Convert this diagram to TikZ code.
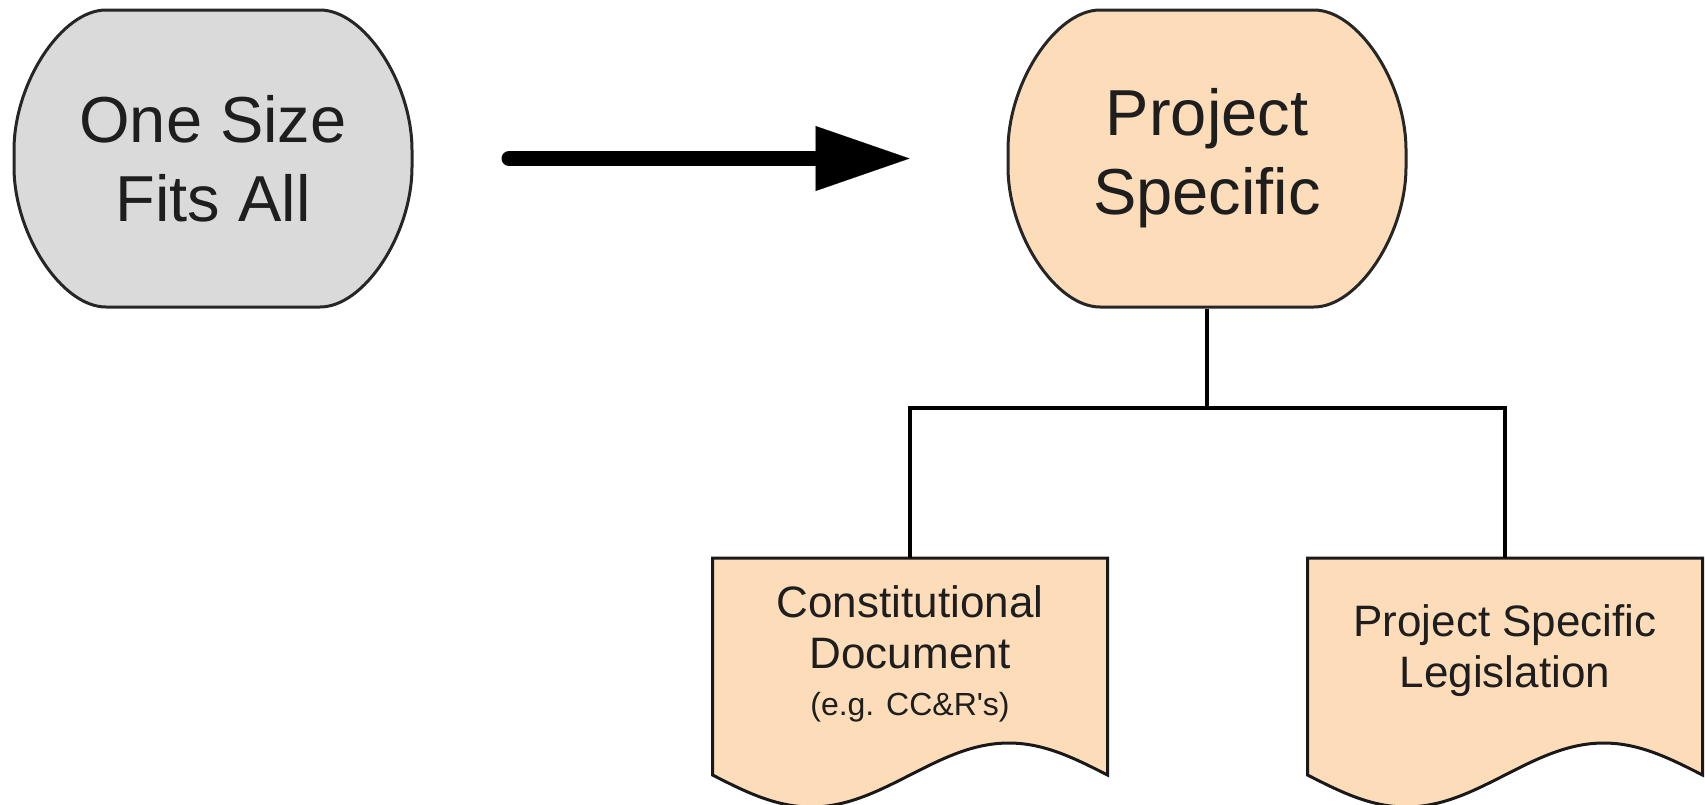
\documentclass[tikz,border=0pt]{standalone}
\usepackage{fontspec}
\setmainfont{Liberation Sans}
\usetikzlibrary{arrows.meta}
\definecolor{boxgray}{RGB}{218,218,218}
\definecolor{peach}{RGB}{253,220,185}
\definecolor{txtcol}{RGB}{30,30,30}
% outline of a terminal box, relative to its centre (pixels, y downwards)
\newcommand\TermOutline{(-107,-148.5) -- (107,-148.5)
  .. controls (151.2,-148.5) and (199,-75.7) .. (199,-8.5) -- (199,8.5)
  .. controls (199,75.7) and (151.2,148.5) .. (107,148.5) -- (-107,148.5)
  .. controls (-151.2,148.5) and (-199,75.7) .. (-199,8.5) -- (-199,-8.5)
  .. controls (-199,-75.7) and (-151.2,-148.5) .. (-107,-148.5) -- cycle}
% wavy bottom of a document box, from the right end to the left end
\newcommand\DocWave{(1107.5,775)
  .. controls (1075.3,758.6) and (1044.5,743) .. (1008.75,743)
  .. controls (973,743) and (942.2,758.6) .. (910,775)
  .. controls (877.8,791.4) and (847,807) .. (811.25,807)
  .. controls (775.5,807) and (744.7,791.4) .. (712.5,775)}
\begin{document}
\begin{tikzpicture}[x=1pt,y=-1pt,
  termshape/.style={draw=black!85, line width=3pt},
  term/.style={minimum width=398pt, minimum height=297pt, inner sep=0pt, outer sep=1.5pt,
    align=center, text=txtcol, font=\fontsize{65}{79}\selectfont},
  docframe/.style={minimum width=395pt, minimum height=220pt, inner sep=0pt, outer sep=0pt},
  docshape/.style={draw=black!90, line width=3pt, fill=peach, line join=miter},
  doctext/.style={align=center, text=txtcol, inner sep=0pt, font=\fontsize{44}{51}\selectfont},
  bigarrow/.style={line width=15pt, line cap=round, draw=black,
    -{Triangle[length=94pt, width=65pt, line width=0.1pt]}},
  conn/.style={draw=black, line width=3.5pt, line join=miter}
]
\useasboundingbox (0,0) rectangle (1705,804);

% terminal boxes
\begin{scope}[shift={(213,158.5)}]
  \path[termshape, fill=boxgray] \TermOutline;
\end{scope}
\begin{scope}[shift={(1207,158.5)}]
  \path[termshape, fill=peach] \TermOutline;
\end{scope}
\node[term] (fits) at (213,158.5) {One Size\\Fits All};
\node[term] (proj) at (1207,158.5) {Project\\Specific};

\draw[bigarrow, shorten <=95.5pt, shorten >=97pt] (fits.east) -- (proj.west);

% document 1
\node[docframe] (doc1) at (910,668) {};
\path[docshape] (doc1.north west) -- (doc1.north east) -- \DocWave -- cycle;
\node[doctext] (t1) at (910,653.5) {Constitutional\\Document\\[-4pt]{\fontsize{32}{38}\selectfont (e.g. CC\&R\textquotesingle s)}};

% document 2
\begin{scope}[shift={(595,0)}]
\node[docframe] (doc2) at (910,668) {};
\path[docshape] (doc2.north west) -- (doc2.north east) -- \DocWave -- cycle;
\node[doctext] (t2) at (910,651) {Project Specific\\Legislation};
\end{scope}

% tree connectors
\coordinate (bus) at (1207,408);
\draw[conn] (proj.south) -- (bus);
\draw[conn] (doc1.north) |- (bus) -| (doc2.north);
\end{tikzpicture}
\end{document}
